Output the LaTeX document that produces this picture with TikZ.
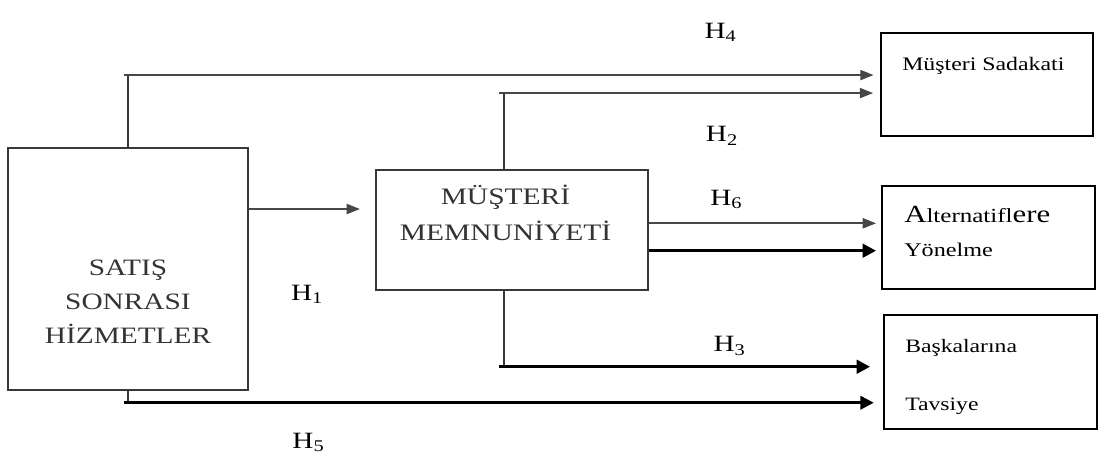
\documentclass[tikz,border=0pt]{standalone}
\usepackage{fontspec}
\setmainfont{Liberation Serif}
\usepackage{graphicx}
\usetikzlibrary{arrows.meta}
\newcommand{\wide}[1]{\scalebox{1.25}[1]{#1}}
\newcommand{\hyp}[1]{\wide{H\textsubscript{#1}}}

\begin{document}
\begin{tikzpicture}[x=0.75pt,y=-0.75pt,
  box/.style={draw=black!78,line width=1.5pt,inner sep=0pt},
  outbox/.style={draw=black,line width=1.4pt,inner sep=0pt},
  stem/.style={draw=black!78,line width=1.5pt},
  greyarrow/.style={draw=black!72,line width=1.6pt,-{Triangle[length=10pt,width=7.5pt]}},
  blackarrow/.style={draw=black,line width=2.3pt,-{Triangle[length=10pt,width=10pt]}},
  hlabel/.style={anchor=base west,inner sep=0pt,font=\fontsize{17.5}{21}\selectfont},
  boxtext/.style={anchor=base west,inner sep=0pt,align=left}]
\useasboundingbox (0,0) rectangle (1099,457);
% boxes
\node[box,minimum width=179.7pt,minimum height=181.7pt] (sat) at (128.2,268.9) {};
\node[box,minimum width=204pt,minimum height=90.2pt] (mm) at (512,229.9) {};
\node[outbox,minimum width=159pt,minimum height=77.5pt] (sad) at (987,84.4) {};
\node[outbox,minimum width=159.75pt,minimum height=77.25pt] (alt) at (988.5,237.2) {};
\node[outbox,minimum width=159.75pt,minimum height=85.5pt] (bas) at (990.5,372) {};
% box texts (base = last line)
\node[anchor=base,inner sep=0pt,align=center,text=black!80,font=\fontsize{17.6}{25.5}\selectfont] (sattext) at (128,343) {\wide{SATIŞ}\\\wide{SONRASI}\\\wide{HİZMETLER}};
\node[anchor=base,inner sep=0pt,align=center,text=black!80,font=\fontsize{17.7}{26.8}\selectfont] (mmtext) at (505.5,240.7) {\wide{MÜŞTERİ}\\\wide{MEMNUNİYETİ}};
\node[boxtext,font=\fontsize{14.3}{17}\selectfont] (sadtext) at (902,70) {\wide{Müşteri Sadakati}};
\node[boxtext,font=\fontsize{14.5}{26}\selectfont] (alttext) at (904,256.7) {\wide{{\fontsize{18.5}{26}\selectfont A}\fontsize{15}{26}\selectfont lternatifl{\fontsize{18.5}{26}\selectfont ere}}\\\wide{Yönelme}};
\node[boxtext,font=\fontsize{14.2}{43.5}\selectfont] (bastext) at (905,410) {\wide{Başkalarına}\\\wide{Tavsiye}};
% connectors
\draw[stem] (sat.north) -- ++(0,-71.7) coordinate (c4);
\draw[greyarrow,shorten >=4.8pt] ([xshift=-3pt]c4) -- (sad.west |- c4);
\draw[stem] (mm.north -| 504,0) -- ++(0,-75.7) coordinate (c2);
\draw[greyarrow,shorten >=5.2pt] ([xshift=-3.75pt]c2) -- (sad.west |- c2);
\draw[greyarrow,shorten >=11.25pt] (sat.east |- 0,209) -- (mm.west |- 0,209);
\draw[greyarrow,shorten >=3.75pt] (mm.east |- 0,223.3) -- (alt.west |- 0,223.3);
\draw[blackarrow,shorten >=3.75pt] (mm.east |- 0,250.7) -- (alt.west |- 0,250.7);
\draw[stem] (mm.south -| 504,0) -- ++(0,75.7) coordinate (c3);
\draw[blackarrow,line width=2.6pt,shorten >=9.75pt] ([xshift=-3.75pt]c3) -- (bas.west |- c3);
\draw[stem] (sat.south) -- ++(0,11.7) coordinate (c5);
\draw[blackarrow,line width=1.9pt,shorten >=7pt] ([xshift=-3pt]c5) -- (bas.west |- c5);
% labels
\node[hlabel] (h4) at (704.3,38.3) {\hyp{4}};
\node[hlabel] (h2) at (705.7,141.7) {\hyp{2}};
\node[hlabel] (h6) at (710,205) {\hyp{6}};
\node[hlabel] (h1) at (290.8,300) {\hyp{1}};
\node[hlabel] (h3) at (713.4,351.7) {\hyp{3}};
\node[hlabel] (h5) at (292.2,448) {\hyp{5}};
\end{tikzpicture}
\end{document}
